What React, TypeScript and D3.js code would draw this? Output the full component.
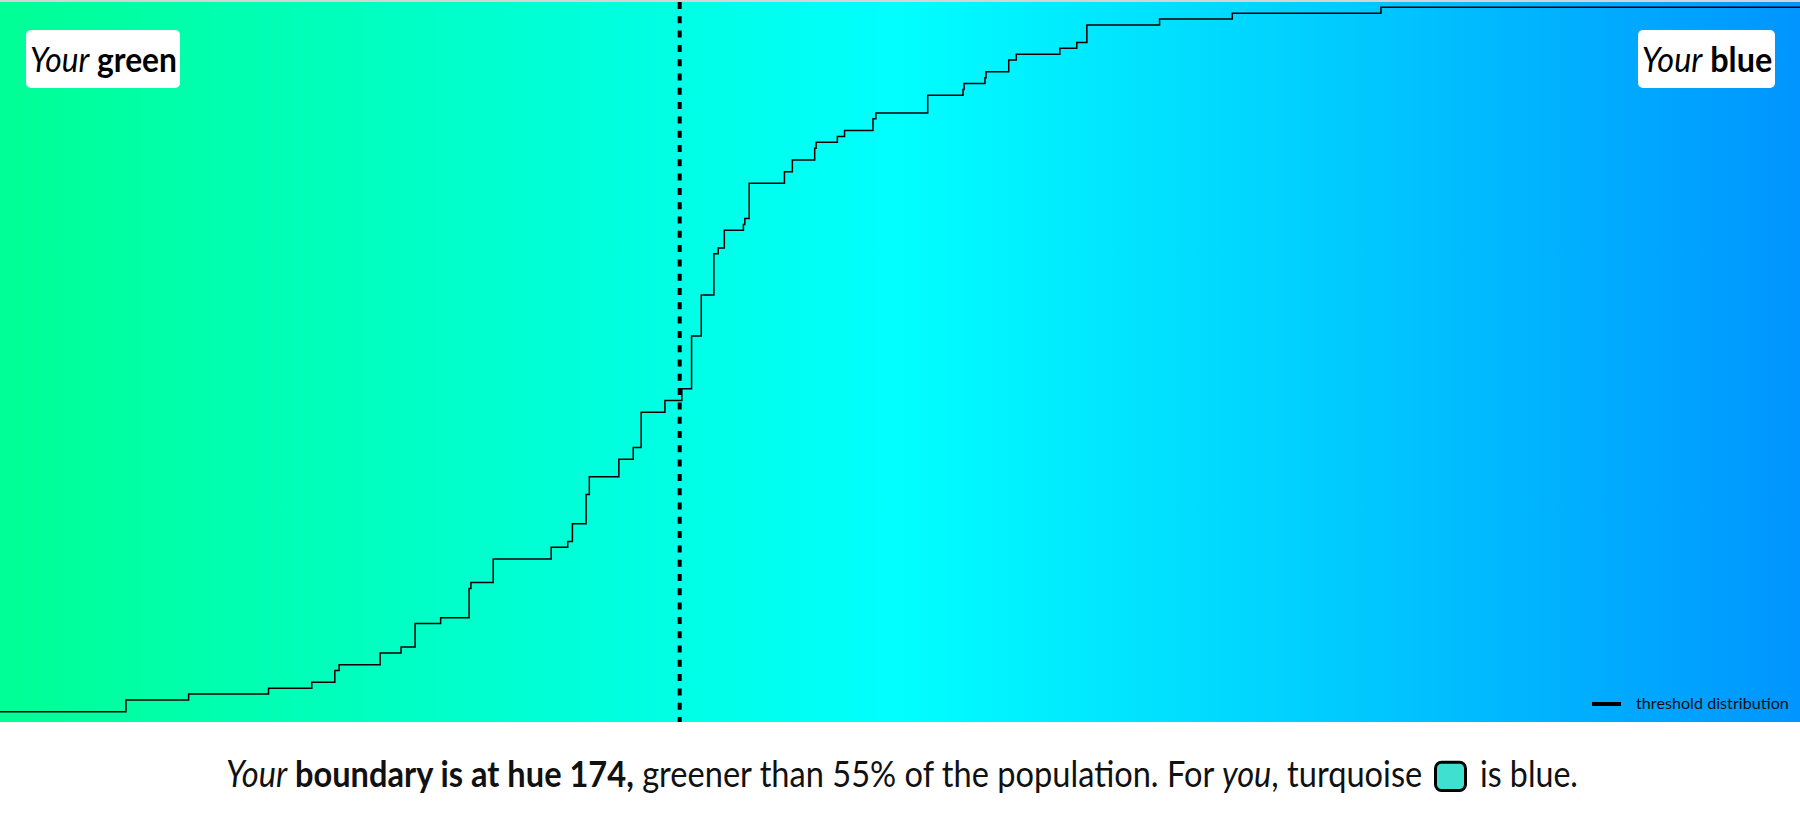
import React, { useLayoutEffect, useRef, useState } from "react";
import * as d3 from "d3";

// ---- data ----
const hueDomain = [155, 205];
const boundaryHue = 173.88;
const totalCount = 123;
// hue at which the cumulative count steps up, and the cumulative count reached
const stepHues = [155, 158.5, 160.24, 162.46, 163.66, 164.3, 164.42, 165.56, 166.14, 166.53, 167.24, 168.03, 168.08, 168.7, 170.31, 170.77, 170.9, 171.28, 171.37, 172.19, 172.59, 172.81, 173.47, 173.94, 174.21, 174.48, 174.83, 174.95, 175.12, 175.65, 175.69, 175.81, 176.79, 177.01, 177.63, 177.67, 178.26, 178.46, 179.25, 179.33, 180.77, 181.75, 181.78, 182.36, 182.39, 183.02, 183.23, 184.44, 184.91, 185.19, 187.21, 189.23, 193.36];
const cumulativeCounts = [2, 4, 5, 6, 7, 9, 10, 12, 13, 17, 18, 23, 24, 28, 30, 31, 34, 39, 42, 45, 47, 53, 55, 57, 66, 73, 80, 81, 84, 85, 86, 92, 94, 96, 98, 99, 100, 101, 103, 104, 107, 108, 109, 110, 111, 113, 114, 115, 116, 119, 120, 121, 122];
const gradientStopHues = [155, 160, 165, 170, 175, 180, 185, 190, 195, 200, 205];

const W = 1800;
const H = 821;
const chartTop = 2;
const chartBottom = 722;
const FONT = "Lato, 'Open Sans', sans-serif";

function FitText(props: {
  x: number;
  y: number;
  width: number;
  fontSize: number;
  fill?: string;
  children: React.ReactNode;
}) {
  const ref = useRef<SVGTextElement>(null);
  const [sx, setSx] = useState(1);
  useLayoutEffect(() => {
    if (ref.current) {
      const w = ref.current.getBBox().width;
      if (w > 0) setSx(props.width / w);
    }
  }, [props.width]);
  return (
    <g transform={`translate(${props.x},${props.y}) scale(${sx},1)`}>
      <text
        ref={ref}
        x={0}
        y={0}
        fontFamily={FONT}
        fontSize={props.fontSize}
        fill={props.fill || "#000"}
      >
        {props.children}
      </text>
    </g>
  );
}

export default function App() {
  const x = d3.scaleLinear().domain(hueDomain).range([0, W]);
  const y = d3.scaleLinear().domain([0, totalCount]).range([723.4, 1.4]);

  const pts: [number, number][] = stepHues.map((h, i) => [h, cumulativeCounts[i]]);
  pts.push([hueDomain[1], cumulativeCounts[cumulativeCounts.length - 1]]);
  const line = d3
    .line<[number, number]>()
    .x((d) => x(d[0]))
    .y((d) => y(d[1]))
    .curve(d3.curveStepAfter);

  let countBelow = 0;
  stepHues.forEach((h, i) => {
    if (h <= boundaryHue) countBelow = cumulativeCounts[i];
  });
  const greenerPct = Math.round(100 * (1 - countBelow / totalCount));
  const bx = x(boundaryHue);

  return (
    <svg
      width={W}
      height={H}
      style={{ position: "absolute", left: 0, top: 0, display: "block", background: "#fff" }}
    >
      <defs>
        <linearGradient id="hueGrad" x1="0" x2="1" y1="0" y2="0">
          {gradientStopHues.map((h) => (
            <stop
              key={h}
              offset={(x(h) / W).toString()}
              stopColor={d3.hsl(h, 1, 0.5).formatHex()}
            />
          ))}
        </linearGradient>
      </defs>
      <rect x={0} y={0} width={W} height={chartTop} fill="#d4d4d4" />
      <rect x={0} y={chartTop} width={W} height={chartBottom - chartTop} fill="url(#hueGrad)" />

      <path d={line(pts) || ""} fill="none" stroke="#000" strokeWidth={1.5} />

      <line
        x1={bx}
        x2={bx}
        y1={chartTop}
        y2={chartBottom}
        stroke="#000"
        strokeWidth={4}
        strokeDasharray="7 7.3"
      />

      {/* corner labels */}
      <rect x={26} y={30} width={154} height={58} rx={5} fill="#fff" />
      <FitText x={30} y={71.7} width={147} fontSize={34}>
        <tspan fontStyle="italic">Your</tspan>
        <tspan fontWeight="bold"> green</tspan>
      </FitText>
      <rect x={1638} y={30} width={137} height={58} rx={5} fill="#fff" />
      <FitText x={1641.7} y={71.7} width={130.6} fontSize={34}>
        <tspan fontStyle="italic">Your</tspan>
        <tspan fontWeight="bold"> blue</tspan>
      </FitText>

      {/* legend */}
      <line x1={1592} x2={1621} y1={704} y2={704} stroke="#000" strokeWidth={4} />
      <FitText x={1636} y={709.3} width={153} fontSize={15} fill="#111">
        threshold distribution
      </FitText>

      {/* bottom sentence */}
      <FitText x={226} y={786.7} width={1197} fontSize={36} fill="#111">
        <tspan fontStyle="italic">Your</tspan>
        <tspan fontWeight="bold">{` boundary is at hue ${Math.round(boundaryHue)},`}</tspan>
        <tspan>{` greener than ${greenerPct}% of the population. For `}</tspan>
        <tspan fontStyle="italic">you</tspan>
        <tspan>, turquoise</tspan>
      </FitText>
      <rect x={1435.5} y={762.2} width={30} height={28.3} rx={6} fill="#40E0D0" stroke="#000" strokeWidth={3} />
      <FitText x={1480} y={786.7} width={98} fontSize={36} fill="#111">
        is blue.
      </FitText>
    </svg>
  );
}
